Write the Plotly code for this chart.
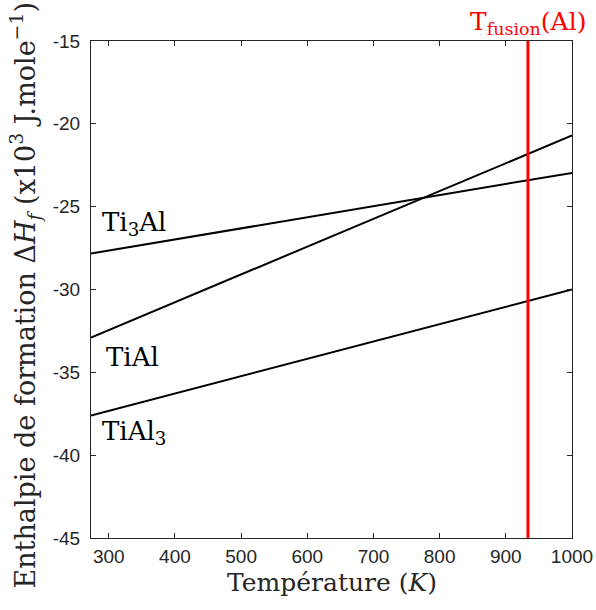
import plotly.graph_objects as go

# Data
temperature = [273.15, 1000]
ti3al = [-27.83, -22.96]
tial = [-32.90, -20.70]
tial3 = [-37.60, -30.00]
t_fusion_al = 933.47

x_ticks = [300, 400, 500, 600, 700, 800, 900, 1000]
y_ticks = [-45, -40, -35, -30, -25, -20, -15]
y_tick_text = ["-45", "-40", "-35", "-30", "-25", "-20", "-15"]

labels = ["Ti<sub>3</sub>Al", "TiAl", "TiAl<sub>3</sub>"]
label_x = [286.0, 293.5, 286.0]
label_y = [-26.0, -34.05, -38.65]

x_title = "Température (<i>K</i>)"
y_title = "Enthalpie de formation Δ<i>H<sub>f</sub></i> (x10<sup>3</sup> J.mole<sup>−1</sup>)"

serif = "DejaVu Serif"
sans = "Liberation Sans, Arial, sans-serif"
axis_col = "#262626"

fig = go.Figure()
for ys in (ti3al, tial, tial3):
    fig.add_trace(go.Scatter(x=temperature, y=ys, mode="lines",
                             line=dict(color="black", width=2), showlegend=False,
                             hoverinfo="skip"))

fig.add_trace(go.Scatter(x=[t_fusion_al, t_fusion_al], y=[y_ticks[0], y_ticks[-1]],
                         mode="lines", line=dict(color="#ff0000", width=3),
                         showlegend=False, hoverinfo="skip", cliponaxis=False))

for t, xx, yy in zip(labels, label_x, label_y):
    fig.add_annotation(x=xx, y=yy, text=t, showarrow=False, xanchor="left",
                       yanchor="middle", font=dict(family=serif, size=26, color="black"))

fig.add_annotation(x=t_fusion_al, y=1.0, yref="y domain", text="T<sub>fusion</sub>(Al)",
                   showarrow=False, xanchor="center", yanchor="bottom", yshift=0,
                   font=dict(family=serif, size=25, color="#ff0000"))

# axis titles as annotations for exact placement
fig.add_annotation(xref="paper", yref="paper", x=0.5, y=0, text=x_title,
                   showarrow=False, xanchor="center", yanchor="middle", yshift=-44,
                   font=dict(family=serif, size=25, color=axis_col))
fig.add_annotation(xref="paper", yref="paper", x=0, y=0.5, text=y_title, textangle=-90,
                   showarrow=False, xanchor="center", yanchor="middle", xshift=-66, yshift=-6,
                   font=dict(family=serif, size=27, color=axis_col))

fig.update_layout(
    width=596, height=610,
    margin=dict(l=91, r=24, t=41, b=72),
    plot_bgcolor="white", paper_bgcolor="white",
    xaxis=dict(range=[temperature[0], temperature[-1]], tickvals=x_ticks,
               ticks="inside", ticklen=5, tickcolor=axis_col, showgrid=False,
               zeroline=False, showline=True, linecolor=axis_col, linewidth=1,
               mirror="ticks", automargin=False, ticklabelstandoff=1,
               tickfont=dict(family=sans, size=19, color=axis_col)),
    yaxis=dict(range=[y_ticks[0], y_ticks[-1]], tickvals=y_ticks, ticktext=y_tick_text,
               ticks="inside", ticklen=5, tickcolor=axis_col, showgrid=False,
               zeroline=False, showline=True, linecolor=axis_col, linewidth=1,
               mirror="ticks", automargin=False, ticklabelstandoff=6,
               tickfont=dict(family=sans, size=19, color=axis_col)),
)

fig.write_html("out.html", config={"displayModeBar": False},
               post_script="document.body.style.margin='0';document.body.style.padding='0';")
